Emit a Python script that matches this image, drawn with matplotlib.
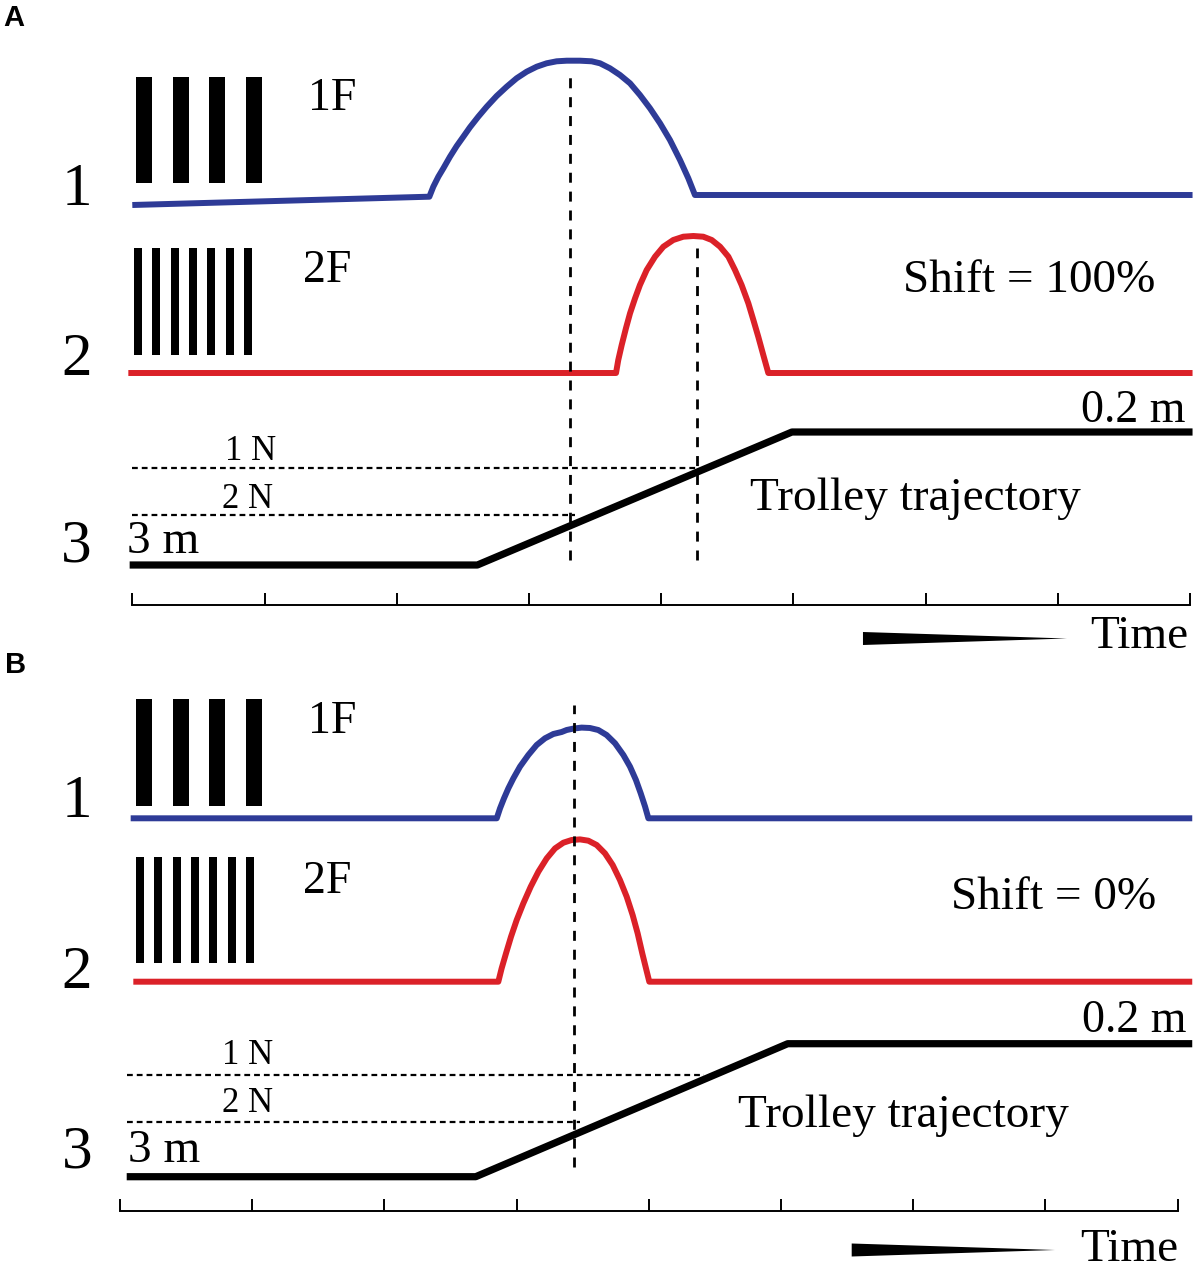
import numpy as np
import matplotlib.pyplot as plt

plt.rcParams['font.family'] = ['Liberation Serif', 'DejaVu Serif']

BLUE = '#2e3b97'
RED = '#db2128'

# time axis, in tick units
tick_times = np.arange(0, 9)

# ---- panel A : shift = 100 % ----
# responses are heights above each trace's own baseline (1 unit = 100 px)
a_blue_t = [0.0, 2.247, 2.277, 2.315, 2.353, 2.403, 2.454, 2.504, 2.554, 2.617, 2.681, 2.756,
            2.832, 2.907, 2.983, 3.059, 3.134, 3.210, 3.286, 3.387, 3.475, 3.538, 3.613, 3.689,
            3.765, 3.840, 3.916, 3.992, 4.067, 4.143, 4.206, 4.256, 8.02]
a_blue_y = [-0.10, -0.017, 0.083, 0.183, 0.267, 0.383, 0.49, 0.583, 0.677, 0.783, 0.883, 0.99,
            1.083, 1.167, 1.233, 1.283, 1.317, 1.337, 1.343, 1.343, 1.337, 1.317, 1.267, 1.20,
            1.117, 1.00, 0.867, 0.717, 0.55, 0.35, 0.167, 0.0, 0.0]
a_red_t = [-0.03, 3.659, 3.676, 3.702, 3.734, 3.765, 3.803, 3.840, 3.891, 3.954, 4.017, 4.092,
           4.168, 4.244, 4.319, 4.383, 4.446, 4.509, 4.559, 4.609, 4.660, 4.698, 4.735, 4.773,
           4.811, 8.02]
a_red_y = [0, 0, 0.13, 0.28, 0.447, 0.597, 0.747, 0.88, 1.03, 1.163, 1.263, 1.33,
           1.363, 1.37, 1.363, 1.33, 1.263, 1.163, 1.03, 0.88, 0.697, 0.53, 0.363, 0.18,
           0, 0]
a_traj_t = [-0.02, 2.61, 4.99, 8.02]
a_traj_y = [0, 0, 1.33, 1.33]
a_peak_t = [3.31, 4.27]
a_mark_levels = [0.97, 0.50]      # 1 N, 2 N
a_mark_ends = [4.27, 3.35]

# ---- panel B : shift = 0 % ----
b_blue_t = [0.08, 2.849, 2.874, 2.904, 2.937, 2.975, 3.025, 3.088, 3.151, 3.214, 3.277, 3.340,
            3.378, 3.428, 3.491, 3.554, 3.617, 3.680, 3.744, 3.807, 3.857, 3.902, 3.938, 3.971,
            3.996, 8.11]
b_blue_y = [0, 0, 0.10, 0.20, 0.30, 0.40, 0.517, 0.633, 0.733, 0.80, 0.843, 0.863,
            0.883, 0.897, 0.907, 0.903, 0.883, 0.833, 0.75, 0.633, 0.517, 0.383, 0.25, 0.117,
            0, 0]
b_red_t = [0.10, 2.861, 2.886, 2.919, 2.957, 3.0, 3.05, 3.106, 3.164, 3.227, 3.29, 3.353,
           3.416, 3.479, 3.542, 3.605, 3.668, 3.726, 3.781, 3.832, 3.877, 3.915, 3.95, 3.978,
           4.003, 8.11]
b_red_y = [0, 0, 0.133, 0.283, 0.45, 0.617, 0.783, 0.95, 1.10, 1.233, 1.333, 1.39,
           1.417, 1.423, 1.41, 1.367, 1.283, 1.167, 1.017, 0.85, 0.667, 0.483, 0.283, 0.133,
           0, 0]
b_traj_t = [0.05, 2.69, 5.05, 8.11]
b_traj_y = [0, 0, 1.33, 1.33]
b_peak_t = [3.43]
b_mark_levels = [1.017, 0.55]
b_mark_ends = [4.42, 3.48]

mark_labels = ['1 N', '2 N']
grating_bars = {'1F': 4, '2F': 7}

# layout (pixel placement of each panel and its labels)
W, H = 1200, 1269
PX_PER_TICK = 132.2
panels = [
    dict(name='A', shift='Shift = 100%', x0=132.3, axis_px=604.5,
         rows=dict(blue=4.095, red=2.315, traj=0.395),
         blue=(a_blue_t, a_blue_y), red=(a_red_t, a_red_y), traj=(a_traj_t, a_traj_y),
         peaks=a_peak_t, peak_tops=[5.275, 3.565], peak_bottom=0.445,
         marks=(a_mark_levels, a_mark_ends), mark_start=-0.005,
         num_pos=[(-0.418, 3.995), (-0.418, 2.295), (-0.426, 0.425)],
         f_pos=[(1.329, 4.945), (1.291, 3.225)],
         shift_pos=(7.736, 3.128), far_pos=(7.963, 1.828), traj_pos=(4.672, 0.945),
         n_pos=[(0.701, 1.445), (0.676, 0.965)], near_pos=(-0.042, 0.512),
         time_pos=(7.988, -0.438), wedge=(5.527, 7.07, -0.34),
         label_pos=(-0.975, 5.78),
         grat=[(0.028, 0.121, 0.2776, 4.215, 5.275), (0.013, 0.0605, 0.1387, 2.495, 3.565)]),
    dict(name='B', shift='Shift = 0%', x0=120.1, axis_px=1211,
         rows=dict(blue=3.927, red=2.293, traj=0.343),
         blue=(b_blue_t, b_blue_y), red=(b_red_t, b_red_y), traj=(b_traj_t, b_traj_y),
         peaks=b_peak_t, peak_tops=[5.06], peak_bottom=0.44,
         marks=(b_mark_levels, b_mark_ends), mark_start=0.05,
         num_pos=[(-0.326, 3.943), (-0.326, 2.227), (-0.326, 0.43)],
         f_pos=[(1.424, 4.777), (1.384, 3.177)],
         shift_pos=(7.841, 3.017), far_pos=(8.069, 1.793), traj_pos=(4.674, 0.843),
         n_pos=[(0.771, 1.467), (0.771, 0.993)], near_pos=(0.06, 0.487),
         time_pos=(8.002, -0.50), wedge=(5.534, 7.072, -0.39),
         label_pos=(-0.87, 5.38),
         grat=[(0.12, 0.121, 0.2776, 4.053, 5.117), (0.12, 0.0605, 0.1387, 2.477, 3.543)]),
]

fig = plt.figure(figsize=(W / 100, H / 100), dpi=100)

for p in panels:
    ax = fig.add_axes([0, 0, 1, 1])
    ax.set_facecolor('none')
    ax.set_xlim(-p['x0'] / PX_PER_TICK, (W - p['x0']) / PX_PER_TICK)
    ax.set_ylim((p['axis_px'] - H) / 100, p['axis_px'] / 100)
    for s in ['left', 'right', 'top']:
        ax.spines[s].set_visible(False)
    ax.spines['bottom'].set_position(('data', 0))
    ax.spines['bottom'].set_bounds(tick_times[0], tick_times[-1])
    ax.spines['bottom'].set_linewidth(1.4)
    ax.set_xticks(tick_times)
    ax.set_yticks([])
    ax.tick_params(axis='x', direction='in', length=8.5, width=1.4, labelbottom=False)

    rows = p['rows']
    for key, color, lw in [('blue', BLUE, 4.3), ('red', RED, 4.3), ('traj', 'black', 5.2)]:
        t, y = p[key]
        ax.plot(t, np.array(y) + rows[key], color=color, lw=lw,
                solid_capstyle='butt', solid_joinstyle='round')

    # dashed markers at the response peaks
    for t, top in zip(p['peaks'], p['peak_tops']):
        ax.plot([t, t], [p['peak_bottom'], top], color='black', lw=2,
                linestyle=(0, (3.6, 3.2)))

    # dotted force levels on the trajectory
    levels, ends = p['marks']
    for lev, end in zip(levels, ends):
        ax.plot([p['mark_start'], end], [lev + rows['traj']] * 2, color='black', lw=1.6,
                linestyle=(0, (2.6, 1.8)))

    # gratings
    for (x_start, bw, period, y0, y1), n in zip(p['grat'], grating_bars.values()):
        lefts = x_start + period * np.arange(n)
        ax.bar(lefts, y1 - y0, width=bw, bottom=y0, align='edge', color='black', lw=0)

    for (x, y), s in zip(p['num_pos'], ['1', '2', '3']):
        ax.text(x, y, s, fontsize=44, ha='center', va='baseline')
    for (x, y), s in zip(p['f_pos'], grating_bars.keys()):
        ax.text(x, y, s, fontsize=33, ha='left', va='baseline')
    for (x, y), s in zip(p['n_pos'], mark_labels):
        ax.text(x, y, s, fontsize=25, ha='left', va='baseline')
    ax.text(*p['shift_pos'], p['shift'], fontsize=34, ha='right', va='baseline')
    ax.text(*p['far_pos'], '0.2 m', fontsize=33, ha='right', va='baseline')
    ax.text(*p['traj_pos'], 'Trolley trajectory', fontsize=34, ha='left', va='baseline')
    ax.text(*p['near_pos'], '3 m', fontsize=34, ha='left', va='baseline')
    ax.text(*p['time_pos'], 'Time', fontsize=34, ha='right', va='baseline')
    ax.text(*p['label_pos'], p['name'], fontsize=21, fontweight='bold',
            family='Liberation Sans', ha='left', va='baseline')

    # tapering wedge next to "Time"
    x_a, x_b, yc = p['wedge']
    ax.fill([x_a, x_b, x_a], [yc + 0.065, yc, yc - 0.065], color='black', lw=0)

fig.savefig('out.png', dpi=100)
